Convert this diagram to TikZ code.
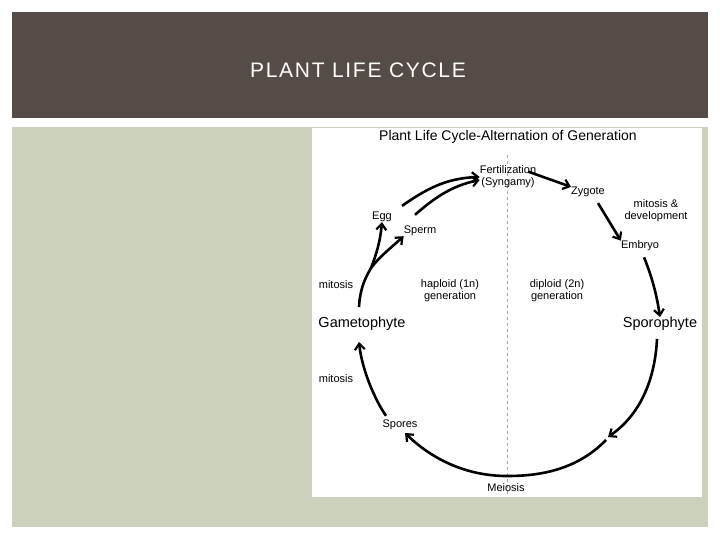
\documentclass[tikz,border=0pt]{standalone}
\usepackage{fontspec}
\setmainfont{Liberation Sans}
\usetikzlibrary{arrows.meta}
\definecolor{band}{HTML}{554B47}
\definecolor{sage}{HTML}{CCD1BE}
\begin{document}
\begin{tikzpicture}[x=1pt,y=-1pt,
  lbl/.style={font=\fontsize{11}{12}\selectfont,align=center,inner sep=0pt},
  big/.style={font=\fontsize{14.5}{16}\selectfont,inner sep=0pt},
  arr/.style={line width=2.6pt,-{Straight Barb[length=6pt,width=10pt,line width=2.2pt]}},
  ln/.style={line width=2.6pt}]
\useasboundingbox (0,0) rectangle (720,540);
\fill[white] (0,0) rectangle (720,540);
\fill[band] (12,12) rectangle (708,118);
\fill[sage] (12,127) rectangle (708,527);
\fill[white] (312,128) rectangle (702,497);
\node[text=white,font=\fontsize{21}{24}\selectfont\addfontfeature{LetterSpace=8}] (head) at (358,70) {PLANT LIFE CYCLE};
\draw[gray!70,dashed] (507,155) -- (507,497);
\node[font=\fontsize{14}{16}\selectfont] (title) at (508,137) {Plant Life Cycle-Alternation of Generation};
\node[lbl] (fert) at (508,177) {Fertilization\\(Syngamy)};
\node[lbl] (zyg) at (588,192) {Zygote};
\node[lbl] (mitdev) at (656,211) {mitosis \&\\development};
\node[lbl] (emb) at (640,246) {Embryo};
\node[lbl] (hap) at (450,291) {haploid (1n)\\generation};
\node[lbl] (dip) at (557,291) {diploid (2n)\\generation};
\node[lbl] (mit1) at (336,285) {mitosis};
\node[lbl] (mit2) at (336,379) {mitosis};
\node[big] (gam) at (362,324) {Gametophyte};
\node[big] (spo) at (660,324) {Sporophyte};
\node[lbl] (spores) at (400,425) {Spores};
\node[lbl] (mei) at (506,488) {Meiosis};
\node[lbl] (egg) at (382,217) {Egg};
\node[lbl] (sperm) at (420,231) {Sperm};
\coordinate (fork) at (371,268);
% gametophyte to egg and sperm
\draw[ln] (gam.north -| 359,0) ++(0,-10) .. controls (360,290) and (364,280) .. (fork);
\draw[arr] (fork) .. controls (376,255) and (380,243) .. (egg.south);
\draw[arr] (fork) .. controls (380,256) and (392,247) .. (sperm.south west);
\draw[arr] (egg.north east) ++(10,-6) .. controls (425,190) and (445,178) .. (fert.west);
\draw[arr] (sperm.north) ++(-5,-11) .. controls (432,200) and (450,186) .. ([yshift=-3pt]fert.west);
\draw[arr] (fert.north east) ++(-8,6) -- (zyg.north west);
\draw[arr] (zyg.south) ++(10,6) -- (emb.north west);
\draw[arr] (emb.south) ++(4,6) .. controls (650,272) and (656,290) .. (spo.north);
\draw[arr] (spo.south) ++(-3,8) .. controls (655,380) and (640,415) .. (608,437);
\draw[arr] (606,440) .. controls (575,472) and (535,476) .. (507,476) .. controls (470,476) and (435,462) .. (405,433);
\draw[arr] (spores.north) ++(-14,-4) .. controls (375,400) and (362,370) .. (359,342);
\end{tikzpicture}
\end{document}
